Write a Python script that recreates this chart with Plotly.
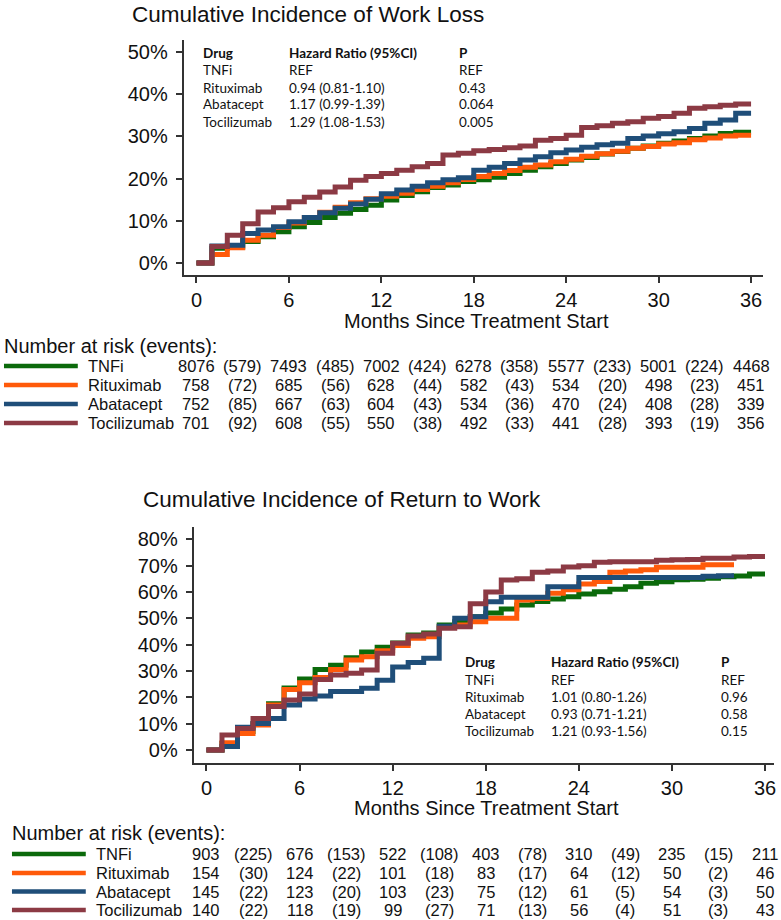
import plotly.graph_objects as go

W, H = 781, 920

# ---------------- data ----------------
drugs = ["TNFi", "Rituximab", "Abatacept", "Tocilizumab"]
colors = ["#0b6a0b", "#ff5a0a", "#1f4e79", "#8c3a44"]

# Work loss (months 0..36), cumulative incidence %
wl_months = list(range(0, 37))
wl_tnfi = [0, 3.5, 3.8, 5.1, 6.2, 7.4, 8.6, 9.6, 10.8, 11.8, 12.7, 13.7, 14.9, 16.0, 16.9, 17.9, 18.5, 19.3,
           19.7, 20.3, 21.2, 22.0, 22.8, 23.6, 24.4, 25.0, 25.8, 26.4, 27.2, 27.7, 28.4, 28.9, 29.5, 30.1, 30.7, 31.0, 31.0]
wl_ritux = [0, 2.0, 3.6, 5.4, 6.6, 8.4, 9.5, 10.8, 12.0, 13.2, 14.3, 15.2, 15.8, 16.5, 17.4, 18.2, 19.0, 19.8,
            20.5, 21.2, 21.9, 22.7, 23.2, 24.0, 24.6, 25.3, 25.9, 26.5, 27.2, 27.6, 28.2, 28.5, 29.2, 29.6, 30.1, 30.3, 30.3]
wl_abata = [0, 4.0, 4.2, 7.0, 7.8, 8.6, 9.8, 10.8, 11.9, 13.0, 14.0, 15.1, 16.4, 17.3, 18.2, 19.0, 19.7, 20.2,
            22.0, 22.7, 23.6, 24.4, 25.2, 26.1, 26.8, 27.4, 28.0, 28.4, 29.5, 30.1, 30.6, 31.1, 31.9, 33.1, 33.9, 35.5, 35.5]
wl_tocil = [0, 3.9, 6.6, 9.3, 12.1, 13.1, 14.5, 15.6, 16.8, 18.0, 19.6, 20.5, 21.2, 22.0, 22.8, 23.6, 25.6, 26.0,
            26.6, 26.9, 27.3, 27.7, 29.1, 29.5, 30.3, 32.1, 32.5, 33.1, 33.5, 34.3, 34.7, 35.5, 36.7, 37.0, 37.4, 37.7, 37.7]

# Return to work
rtw_tnfi = [0, 2.5, 7.0, 10.0, 17.6, 23.5, 27.0, 30.6, 32.2, 35.0, 37.2, 39.0, 40.6, 43.7, 44.4, 47.5, 48.7, 50.6,
            52.0, 53.5, 55.1, 56.4, 57.3, 58.2, 59.2, 60.1, 61.0, 62.0, 63.3, 63.9, 64.6, 64.8, 65.2, 65.8, 66.1, 66.8, 66.8]
rtw_ritux = [0, 2.8, 6.3, 9.5, 17.1, 23.0, 25.5, 27.5, 30.6, 34.2, 35.4, 37.7, 39.7, 42.4, 43.0, 46.8, 47.5, 48.7,
             50.0, 50.0, 57.0, 57.5, 59.5, 60.8, 63.0, 64.0, 67.5, 68.0, 68.4, 69.4, 69.4, 69.4, 70.3, 70.3, 70.3]
rtw_abata = [0, 1.3, 8.6, 10.1, 12.0, 17.1, 19.4, 20.5, 22.2, 22.2, 23.4, 26.5, 31.5, 33.2, 34.8, 47.0, 50.0, 50.6,
             56.3, 58.0, 58.0, 58.0, 62.0, 62.0, 65.5, 65.5, 65.5, 65.5, 65.5, 65.5, 65.5, 65.5, 66.0, 66.2, 66.2]
rtw_tocil = [0, 5.7, 8.2, 12.0, 16.5, 19.0, 21.3, 26.8, 28.5, 29.1, 30.4, 36.7, 40.5, 43.3, 44.0, 46.2, 46.8, 55.5,
             60.0, 64.5, 65.0, 67.5, 68.0, 69.5, 70.0, 71.3, 71.5, 71.5, 71.5, 72.0, 72.2, 72.3, 72.8, 72.8, 73.3, 73.5, 73.5]

x_ticks = [0, 6, 12, 18, 24, 30, 36]
wl_yticks = [0, 10, 20, 30, 40, 50]
rtw_yticks = [0, 10, 20, 30, 40, 50, 60, 70, 80]

# Hazard ratio tables
hr_header = ["Drug", "Hazard Ratio (95%CI)", "P"]
wl_hr = ["REF", "0.94 (0.81-1.10)", "1.17 (0.99-1.39)", "1.29 (1.08-1.53)"]
wl_p = ["REF", "0.43", "0.064", "0.005"]
rtw_hr = ["REF", "1.01 (0.80-1.26)", "0.93 (0.71-1.21)", "1.21 (0.93-1.56)"]
rtw_p = ["REF", "0.96", "0.58", "0.15"]

# Number at risk (events)
risk_months = [0, 6, 12, 18, 24, 30, 36]
event_months = [3, 9, 15, 21, 27, 33]
wl_risk = {
    "TNFi": [8076, 7493, 7002, 6278, 5577, 5001, 4468],
    "Rituximab": [758, 685, 628, 582, 534, 498, 451],
    "Abatacept": [752, 667, 604, 534, 470, 408, 339],
    "Tocilizumab": [701, 608, 550, 492, 441, 393, 356],
}
wl_events = {
    "TNFi": [579, 485, 424, 358, 233, 224],
    "Rituximab": [72, 56, 44, 43, 20, 23],
    "Abatacept": [85, 63, 43, 36, 24, 28],
    "Tocilizumab": [92, 55, 38, 33, 28, 19],
}
rtw_risk = {
    "TNFi": [903, 676, 522, 403, 310, 235, 211],
    "Rituximab": [154, 124, 101, 83, 64, 50, 46],
    "Abatacept": [145, 123, 103, 75, 61, 54, 50],
    "Tocilizumab": [140, 118, 99, 71, 56, 51, 43],
}
rtw_events = {
    "TNFi": [225, 153, 108, 78, 49, 15],
    "Rituximab": [30, 22, 18, 17, 12, 2],
    "Abatacept": [22, 20, 23, 12, 5, 3],
    "Tocilizumab": [22, 19, 27, 13, 4, 3],
}

# ---------------- figure ----------------
def yp(p):
    return 1 - p / H


def xp(p):
    return p / W


ARIAL = "Liberation Sans, Arial, sans-serif"
CAL = "Lato, Carlito, Calibri, sans-serif"
TXT = "#111111"
AX = "#333333"

fig = go.Figure()

wl_series = [wl_tnfi, wl_ritux, wl_abata, wl_tocil]
rtw_series = [rtw_tnfi, rtw_ritux, rtw_abata, rtw_tocil]
for name, col, ys in zip(drugs, colors, wl_series):
    fig.add_trace(go.Scatter(x=wl_months[:len(ys)], y=ys, mode="lines", line_shape="hv",
                             line=dict(color=col, width=5), name=name, xaxis="x", yaxis="y",
                             hoverinfo="skip"))
for name, col, ys in zip(drugs, colors, rtw_series):
    fig.add_trace(go.Scatter(x=wl_months[:len(ys)], y=ys, mode="lines", line_shape="hv",
                             line=dict(color=col, width=5), name=name, xaxis="x2", yaxis="y2",
                             hoverinfo="skip"))

axis_common = dict(showgrid=False, zeroline=False, showline=True, linecolor=AX, linewidth=1.5,
                   ticks="outside", ticklen=6, tickwidth=1.5, tickcolor=AX, tickmode="array",
                   tickfont=dict(family=ARIAL, size=20, color=TXT), fixedrange=True)

# top axes geometry (pixels)
t_left, t_right, t_top, t_bot = 184, 765, 40, 275
t_x0, t_pxm = 197, (753 - 197) / 36
t_y0, t_pxp = 263, (263 - 52) / 50
# bottom axes geometry
b_left, b_right, b_top, b_bot = 194, 776, 527, 763
b_x0, b_pxm = 207, (767 - 207) / 36
b_y0, b_pxp = 750, (750 - 539.3) / 80

fig.update_layout(
    width=W, height=H, autosize=False,
    margin=dict(l=0, r=0, t=0, b=0),
    paper_bgcolor="white", plot_bgcolor="white",
    showlegend=False,
    xaxis=dict(domain=[xp(t_left), xp(t_right)],
               range=[-(t_x0 - t_left) / t_pxm, 36 + (t_right - 753) / t_pxm],
               tickvals=x_ticks, ticktext=[str(v) for v in x_ticks],
               anchor="y", ticklabelstandoff=0, **axis_common),
    yaxis=dict(domain=[yp(t_bot), yp(t_top)],
               range=[-(t_bot - t_y0) / t_pxp, 50 + (52 - t_top) / t_pxp],
               tickvals=wl_yticks, ticktext=[f"{v}%" for v in wl_yticks],
               anchor="x", ticklabelstandoff=4, **axis_common),
    xaxis2=dict(domain=[xp(b_left), xp(b_right)],
                range=[-(b_x0 - b_left) / b_pxm, 36 + (b_right - 767) / b_pxm],
                tickvals=x_ticks, ticktext=[str(v) for v in x_ticks],
                anchor="y2", ticklabelstandoff=0, **axis_common),
    yaxis2=dict(domain=[yp(b_bot), yp(b_top)],
                range=[-(b_bot - b_y0) / b_pxp, 80 + (539.3 - b_top) / b_pxp],
                tickvals=rtw_yticks, ticktext=[f"{v}%" for v in rtw_yticks],
                anchor="x2", ticklabelstandoff=4, **axis_common),
)

ann = []


def text(x, y, s, size, family=ARIAL, anchor="left", xref="paper", bold=False):
    ann.append(dict(x=x if xref != "paper" else xp(x), y=yp(y), xref=xref, yref="paper",
                    text=f"<b>{s}</b>" if bold else s, showarrow=False,
                    xanchor=anchor, yanchor="middle", borderpad=0,
                    font=dict(family=family, size=size, color=TXT)))


# Titles
text(131, 14, "Cumulative Incidence of Work Loss", 22.5)
text(142, 499, "Cumulative Incidence of Return to Work", 22.5)
# axis titles
text(478, 321, "Months Since Treatment Start", 20, anchor="center")
text(488, 808, "Months Since Treatment Start", 20, anchor="center")


# HR tables
def hr_table(x_cols, y_rows, hrs, ps):
    for j, h in enumerate(hr_header):
        text(x_cols[j], y_rows[0], h, 13.5, family=CAL, bold=True)
    for i, d in enumerate(drugs):
        text(x_cols[0], y_rows[i + 1], d, 13.5, family=CAL)
        text(x_cols[1], y_rows[i + 1], hrs[i], 13.5, family=CAL)
        text(x_cols[2], y_rows[i + 1], ps[i], 13.5, family=CAL)


hr_table([203, 289, 459], [53, 70.5, 88, 104.5, 121.5], wl_hr, wl_p)
hr_table([465, 551, 722], [662, 679.5, 697, 714, 731], rtw_hr, rtw_p)

shapes = []


def risk_table(title_x, title_y, line_x0, line_x1, label_x, rows_y, xref, risk, events):
    text(title_x, title_y, "Number at risk (events):", 20)
    for i, d in enumerate(drugs):
        y = rows_y[i]
        shapes.append(dict(type="line", xref="paper", yref="paper", x0=xp(line_x0), x1=xp(line_x1),
                           y0=yp(y), y1=yp(y), line=dict(color=colors[i], width=4.5)))
        text(label_x, y, d, 16.5)
        for m, v in zip(risk_months, risk[d]):
            text(m, y, str(v), 16.5, anchor="center", xref=xref)
        for m, v in zip(event_months, events[d]):
            text(m, y, f"({v})", 16.5, anchor="center", xref=xref)


risk_table(3, 346, 4, 78, 87, [366, 385, 404, 423], "x", wl_risk, wl_events)
risk_table(11, 833, 12, 86, 95, [854, 873, 891.5, 910], "x2", rtw_risk, rtw_events)

fig.update_layout(annotations=ann, shapes=shapes)
fig.write_html("out.html")
